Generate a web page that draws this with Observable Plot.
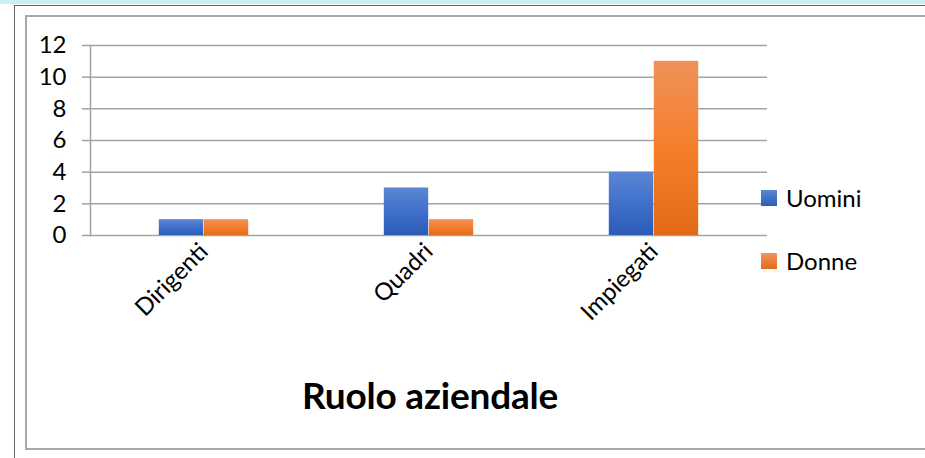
<!DOCTYPE html>
<html>
<head>
<meta charset="utf-8">
<script src="https://cdn.jsdelivr.net/npm/d3@7"></script>
<script src="https://cdn.jsdelivr.net/npm/@observablehq/plot@0.6"></script>
<style>
  html, body { margin: 0; padding: 0; background: #fff; }
  #wrap { position: relative; width: 925px; height: 458px; overflow: hidden; font-family: Lato, "Open Sans", sans-serif; }
  #strip { position: absolute; left: 0; top: 0; width: 925px; height: 4px; background: #c9f0f7; }
  #outer { position: absolute; left: 14px; top: 5px; width: 930px; height: 470px; border-left: 1px solid #666; border-top: 1px solid #666; }
  #inner { position: absolute; left: 25px; top: 15px; width: 920px; height: 435px; border: 2px solid #a8a8a8; border-right: none; box-sizing: border-box; }
  #chart { position: absolute; left: 0; top: 0; }
  .leg { position: absolute; left: 761px; font-size: 24px; color: #000; display: flex; align-items: center; }
  .sw { width: 16px; height: 16px; margin-right: 9px; }
  #title { position: absolute; left: 0; width: 860px; top: 372px; text-align: center; font-size: 37px; font-weight: bold; color: #000; letter-spacing: -0.2px; }
</style>
</head>
<body>
<div id="wrap">
  <div id="strip"></div>
  <div id="outer"></div>
  <div id="inner"></div>
  <div id="chart"></div>
  <div class="leg" style="top:183px"><div class="sw" style="background:linear-gradient(#5b86d3,#2d5db5)"></div><span>Uomini</span></div>
  <div class="leg" style="top:246px"><div class="sw" style="background:linear-gradient(#f29460,#e56a17)"></div><span>Donne</span></div>
  <div id="title">Ruolo aziendale</div>
</div>
<script>
const categories = ["Dirigenti", "Quadri", "Impiegati"];
const uomini = [1, 3, 4];
const donne = [1, 1, 11];
const yTicks = [0, 2, 4, 6, 8, 10, 12];

const dataU = categories.map((c, i) => ({ruolo: c, valore: uomini[i]}));
const dataD = categories.map((c, i) => ({ruolo: c, valore: donne[i]}));

function gradients() {
  const ns = "http://www.w3.org/2000/svg";
  const defs = document.createElementNS(ns, "defs");
  const mk = (id, c0, c1, c2) => {
    const g = document.createElementNS(ns, "linearGradient");
    g.setAttribute("id", id);
    g.setAttribute("x1", "0"); g.setAttribute("y1", "0");
    g.setAttribute("x2", "0"); g.setAttribute("y2", "1");
    [[0, c0], [0.5, c1], [1, c2]].forEach(([o, c]) => {
      const s = document.createElementNS(ns, "stop");
      s.setAttribute("offset", o);
      s.setAttribute("stop-color", c);
      g.appendChild(s);
    });
    defs.appendChild(g);
  };
  mk("gU", "#5c86d3", "#3f70cb", "#2c5cb4");
  mk("gD", "#f0915a", "#f47f2b", "#e36a18");
  return defs;
}

const chart = Plot.plot({
  width: 925,
  height: 345,
  marginLeft: 90,
  marginRight: 158,
  marginTop: 45,
  marginBottom: 110,
  style: {fontFamily: "Lato, 'Open Sans', sans-serif", color: "#000", background: "transparent"},
  x: {domain: categories, padding: 0},
  y: {domain: [0, 12]},
  marks: [
    gradients,
    Plot.ruleY(yTicks, {stroke: "#a3a3a3", strokeWidth: 1.5, strokeOpacity: 1}),
    Plot.frame({anchor: "left", stroke: "#a3a3a3", strokeWidth: 1.5}),
    Plot.barY(dataU, {x: "ruolo", y: "valore", fill: "url(#gU)", insetLeft: 67.8, insetRight: 112.8}),
    Plot.barY(dataD, {x: "ruolo", y: "valore", fill: "url(#gD)", insetLeft: 112.8, insetRight: 67.8}),
    Plot.axisY(yTicks, {tickSize: 8, tickPadding: 16, fontSize: 24, stroke: "#a3a3a3", strokeWidth: 1.5, label: null, fill: "#000"}),
    Plot.axisX({tickSize: 0, tickRotate: -45, tickPadding: 12, fontSize: 24, label: null, fill: "#000"})
  ]
});
document.getElementById("chart").appendChild(chart);
</script>
</body>
</html>
